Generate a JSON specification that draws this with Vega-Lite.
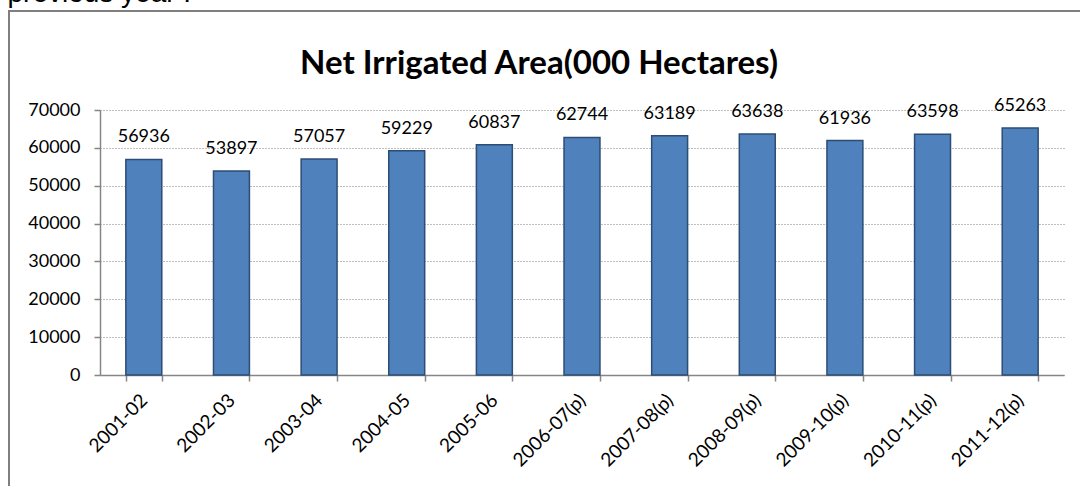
{
  "$schema": "https://vega.github.io/schema/vega-lite/v6.json",
  "autosize": "none",
  "padding": {"left": 9, "top": 11, "right": 0, "bottom": 0},
  "background": "white",
  "width": 1090,
  "height": 490,
  "title": {"text": "Net Irrigated Area(000 Hectares)", "font": "Lato", "fontSize": 33, "fontWeight": "bold", "color": "black", "anchor": "middle", "frame": "group", "offset": -102, "dx": -15},
  "data": {"values": [
    {"year": "2001-02", "area": 56936},
    {"year": "2002-03", "area": 53897},
    {"year": "2003-04", "area": 57057},
    {"year": "2004-05", "area": 59229},
    {"year": "2005-06", "area": 60837},
    {"year": "2006-07(p)", "area": 62744},
    {"year": "2007-08(p)", "area": 63189},
    {"year": "2008-09(p)", "area": 63638},
    {"year": "2009-10(p)", "area": 61936},
    {"year": "2010-11(p)", "area": 63598},
    {"year": "2011-12(p)", "area": 65263}
  ]},
  "encoding": {
    "x": {"field": "year", "type": "nominal", "sort": null,
      "scale": {"range": [91, 1055], "paddingInner": 0.59, "paddingOuter": 0.295},
      "axis": {"title": null, "offset": -126, "labelAngle": -45, "labelAlign": "right", "labelBaseline": "middle", "labelFont": "Lato", "labelFontSize": 19, "labelColor": "black", "labelPadding": 16, "tickBand": "extent", "tickSize": 6, "tickColor": "#868686", "domainColor": "#868686", "domainWidth": 1.5, "tickWidth": 1.5, "grid": false}},
    "y": {"field": "area", "type": "quantitative",
      "scale": {"domain": [0, 70000], "nice": false, "range": [364, 99]},
      "axis": {"title": "previous year .", "titleAngle": 0, "titleAlign": "left", "titleBaseline": "alphabetic", "titleX": -93, "titleY": -10, "titleFont": "Liberation Sans", "titleFontSize": 28, "titleFontWeight": "normal", "titleColor": "black",
        "offset": -91, "values": [0, 10000, 20000, 30000, 40000, 50000, 60000, 70000], "format": "d", "labelFont": "Lato", "labelFontSize": 18, "labelColor": "black", "labelPadding": 14, "tickSize": 6, "tickColor": "#868686", "domainColor": "#868686", "domainWidth": 1.5, "tickWidth": 1.5, "grid": true, "gridColor": "#7f7f7f", "gridDash": [1, 2], "gridWidth": 1}}
  },
  "layer": [
    {"mark": {"type": "bar", "color": "#4F81BD", "stroke": "#2C4D75", "strokeWidth": 1.5}},
    {"mark": {"type": "text", "baseline": "alphabetic", "dy": -17, "font": "Lato", "fontSize": 18, "color": "black"},
      "encoding": {"text": {"field": "area", "type": "quantitative", "format": "d"}}}
  ],
  "config": {"view": {"stroke": "#7f7f7f", "strokeWidth": 2}}
}
